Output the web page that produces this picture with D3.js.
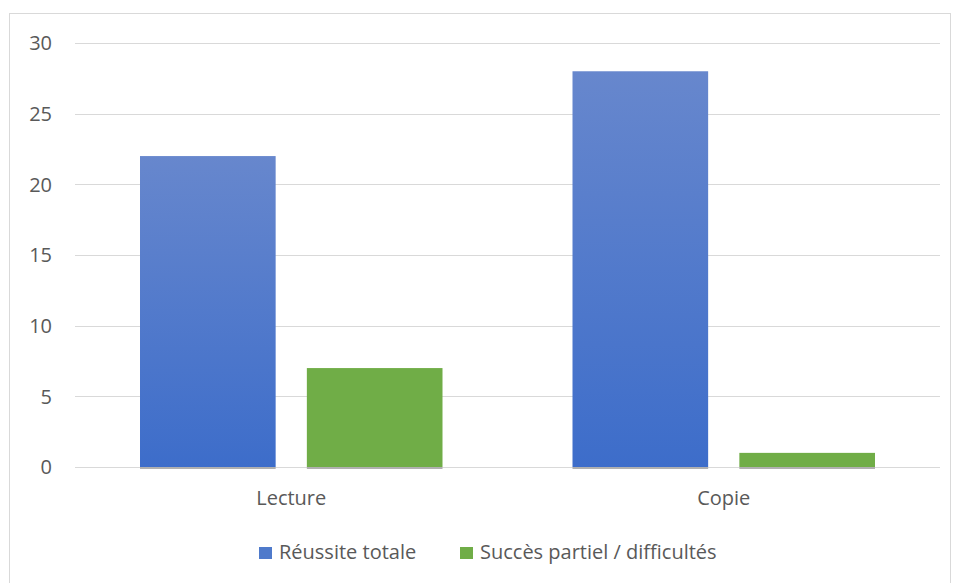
<!DOCTYPE html>
<html lang="fr">
<head>
    <meta charset="UTF-8">
    <title>Réussite totale / Succès partiel</title>
    <script src="https://d3js.org/d3.v7.min.js"></script>
    <style>
        body {
            margin: 0;
            background: #fff;
            font-family: "Open Sans", "Liberation Sans", Arial, sans-serif;
        }
        .tick-label, .cat-label, .legend-label {
            fill: #595959;
            font-size: 20px;
        }
    </style>
</head>
<body>
    <svg id="chart" width="957" height="583"></svg>
    <script>
        const categories = ["Lecture", "Copie"];
        const series = ["Réussite totale", "Succès partiel / difficultés"];
        const reussite = [22, 28];
        const succesPartiel = [7, 1];
        const yTicks = [0, 5, 10, 15, 20, 25, 30];

        const colors = ["url(#blueGrad)", "#70ad47"];
        const legendColors = ["#4f7acb", "#70ad47"];

        const data = categories.map((c, i) => ({
            category: c,
            values: [reussite[i], succesPartiel[i]]
        }));

        const svg = d3.select("#chart");

        // gradient for the blue bars
        const defs = svg.append("defs");
        const grad = defs.append("linearGradient")
            .attr("id", "blueGrad")
            .attr("x1", 0).attr("y1", 0).attr("x2", 0).attr("y2", 1);
        grad.append("stop").attr("offset", "0%").attr("stop-color", "#6787cd");
        grad.append("stop").attr("offset", "100%").attr("stop-color", "#3d6dca");

        // chart frame
        svg.append("rect")
            .attr("x", 9.5).attr("y", 13.5)
            .attr("width", 941).attr("height", 580)
            .attr("fill", "none")
            .attr("stroke", "#d9d9d9");

        const x0 = d3.scaleBand()
            .domain(categories)
            .range([75, 940]);

        const x1 = d3.scaleBand()
            .domain(d3.range(series.length))
            .range([65, x0.bandwidth() - 65])
            .paddingInner(0.187);

        const y = d3.scaleLinear()
            .domain([0, 30])
            .range([467, 43]);

        // gridlines
        svg.append("g")
            .selectAll("line")
            .data(yTicks)
            .join("line")
            .attr("x1", 75).attr("x2", 940)
            .attr("y1", d => Math.round(y(d)) + 0.5)
            .attr("y2", d => Math.round(y(d)) + 0.5)
            .attr("stroke", "#d9d9d9")
            .attr("stroke-width", 1);

        svg.append("g")
            .selectAll("text")
            .data(yTicks)
            .join("text")
            .attr("class", "tick-label")
            .attr("x", 52)
            .attr("y", d => y(d))
            .attr("dy", "0.36em")
            .attr("text-anchor", "end")
            .text(d => d);

        const groups = svg.append("g")
            .selectAll("g")
            .data(data)
            .join("g")
            .attr("transform", d => `translate(${x0(d.category)},0)`);

        // slight shadow under each bar
        groups.selectAll("rect.shadow")
            .data(d => d.values)
            .join("rect")
            .attr("class", "shadow")
            .attr("x", (d, i) => x1(i))
            .attr("y", y(0))
            .attr("width", x1.bandwidth())
            .attr("height", 2)
            .attr("fill", "#b0b0b0");

        groups.selectAll("rect.bar")
            .data(d => d.values)
            .join("rect")
            .attr("class", "bar")
            .attr("x", (d, i) => x1(i))
            .attr("y", d => y(d))
            .attr("width", x1.bandwidth())
            .attr("height", d => y(0) - y(d))
            .attr("fill", (d, i) => colors[i]);

        // category labels
        svg.append("g")
            .selectAll("text")
            .data(categories)
            .join("text")
            .attr("class", "cat-label")
            .attr("x", d => x0(d) + x0.bandwidth() / 2)
            .attr("y", 505)
            .attr("text-anchor", "middle")
            .text(d => d);

        // legend
        const legendX = [259, 460];
        const legend = svg.append("g")
            .selectAll("g")
            .data(series)
            .join("g")
            .attr("transform", (d, i) => `translate(${legendX[i]},547)`);
        legend.append("rect")
            .attr("width", 13).attr("height", 12)
            .attr("fill", (d, i) => legendColors[i]);
        legend.append("text")
            .attr("class", "legend-label")
            .attr("x", 20)
            .attr("y", 12)
            .text(d => d);
    </script>
</body>
</html>
